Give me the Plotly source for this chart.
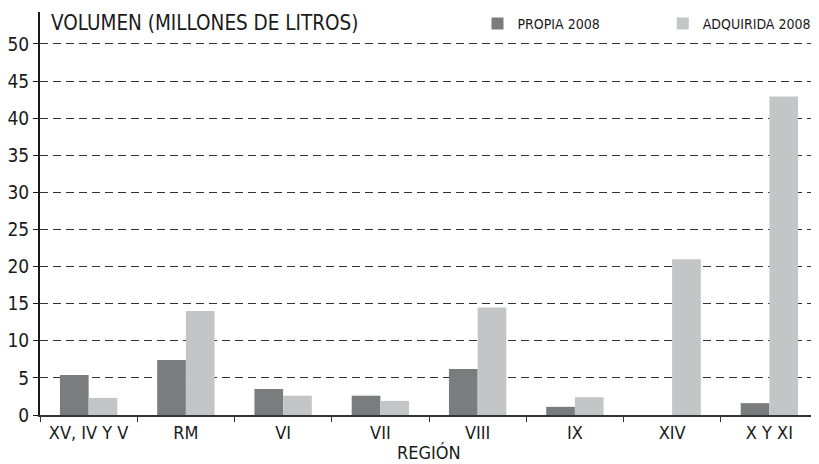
import plotly.graph_objects as go

regions = ["XV, IV Y V", "RM", "VI", "VII", "VIII", "IX", "XIV", "X Y XI"]
propia_2008 = [5.4, 7.4, 3.5, 2.6, 6.2, 1.1, 0.0, 1.6]
adquirida_2008 = [2.3, 14.0, 2.6, 1.9, 14.5, 2.4, 21.0, 42.9]
y_ticks = [0, 5, 10, 15, 20, 25, 30, 35, 40, 45, 50]

FONT = "DejaVu Sans Condensed"

fig = go.Figure()
fig.add_trace(go.Bar(x=regions, y=propia_2008, name="PROPIA 2008", legend="legend",
                     showlegend=True,
                     marker=dict(color="#7b7c7e", line=dict(width=0))))
fig.add_trace(go.Bar(x=regions, y=adquirida_2008, name="ADQUIRIDA 2008", legend="legend2",
                     showlegend=True,
                     marker=dict(color="#c4c5c7", line=dict(width=0))))

legend_common = dict(orientation="h", xref="container", yref="container",
                     y=1.0, yanchor="top",
                     font=dict(size=14, family=FONT), bgcolor="rgba(0,0,0,0)",
                     itemwidth=30)

# page body has an 8px margin, so the figure is sized to fit the 819x464 window
fig.update_layout(
    width=811, height=456,
    margin=dict(l=32, r=1, t=4, b=49, autoexpand=False),
    paper_bgcolor="white", plot_bgcolor="white",
    showlegend=True,
    barmode="group", bargap=0.41, bargroupgap=0,
    font=dict(family=FONT, color="#1a1a1a", size=18),
    legend=dict(x=0.5789, xanchor="left", **legend_common),
    legend2=dict(x=0.996, xanchor="right", **legend_common),
    annotations=[
        dict(text="VOLUMEN (MILLONES DE LITROS)", xref="paper", yref="paper",
             x=0.012, y=1.007, xanchor="left", yanchor="top", showarrow=False,
             font=dict(size=20.5, family=FONT, color="#1a1a1a")),
        dict(text="REGIÓN", xref="paper", yref="paper",
             x=0.5, y=-0.092, xanchor="center", yanchor="middle", showarrow=False,
             font=dict(size=18, family=FONT, color="#1a1a1a")),
    ],
)
fig.update_xaxes(
    automargin=False,
    showline=True, linecolor="#333333", linewidth=2,
    ticks="outside", tickson="boundaries", ticklen=5, tickcolor="#333333",
    tickfont=dict(size=18), showgrid=False,
)
fig.update_yaxes(
    automargin=False,
    range=[0, 54.3], tickvals=y_ticks,
    showline=True, linecolor="#1a1a1a", linewidth=2,
    ticks="outside", ticklen=5, tickcolor="#1a1a1a",
    showgrid=True, gridcolor="#333333", griddash="8px,5px", gridwidth=1,
    zeroline=False, tickfont=dict(size=19),
)

fig.write_html("out.html")
